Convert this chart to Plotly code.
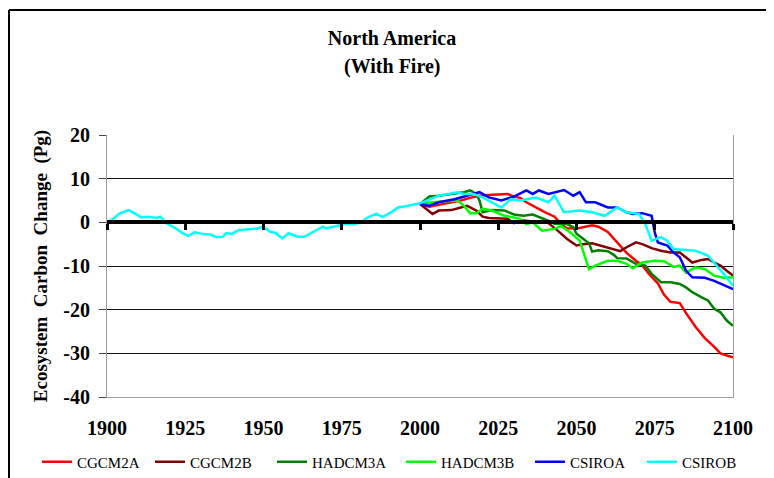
import plotly.graph_objects as go

# ---------------- data ----------------
tick_years = [1900, 1925, 1950, 1975, 2000, 2025, 2050, 2075, 2100]
y_ticks = [20, 10, 0, -10, -20, -30, -40]

cgcm2a_years = [2000, 2003, 2006, 2010, 2013, 2016, 2019, 2023, 2028, 2030, 2032, 2034, 2037, 2040, 2043, 2045,
                2047, 2051, 2055, 2057, 2060, 2063, 2066, 2069, 2071, 2073, 2074, 2076, 2078, 2080, 2083, 2085,
                2088, 2091, 2094, 2096, 2098, 2100]
cgcm2a_vals = [4.2, 3.6, 4.0, 4.5, 5.0, 5.6, 6.1, 6.3, 6.5, 5.9, 5.6, 4.6, 3.4, 2.3, 1.3, -0.4,
               -1.4, -1.3, -0.7, -1.0, -2.2, -4.6, -7.0, -8.8, -9.8, -11.7, -12.4, -14.0, -16.6, -18.2, -18.5, -20.8,
               -23.9, -26.5, -28.5, -30.0, -30.5, -30.9]

cgcm2b_years = [2000, 2002, 2004, 2006, 2010, 2013, 2015, 2018, 2020, 2022, 2028, 2030, 2033, 2037, 2040, 2044,
                2047, 2050, 2052, 2055, 2059, 2062, 2064, 2066, 2069, 2071, 2074, 2077, 2080, 2083, 2085, 2087,
                2090, 2092, 2094, 2096, 2098, 2100]
cgcm2b_vals = [4.2, 3.1, 1.9, 2.7, 2.8, 3.4, 3.8, 2.7, 1.3, 1.0, 0.8, -0.2, 0.4, 0.15, 0.4, -1.9,
               -3.8, -5.3, -5.0, -4.8, -5.6, -6.1, -6.6, -5.7, -4.6, -5.0, -5.9, -6.5, -6.9, -6.9, -8.0, -9.2,
               -8.6, -8.4, -9.2, -9.9, -11.1, -12.2]

hadcm3a_years = [2000, 2003, 2006, 2010, 2014, 2016, 2018, 2019, 2020, 2023, 2027, 2030, 2033, 2036, 2039, 2041,
                 2043, 2047, 2049, 2050, 2052, 2054, 2055, 2057, 2060, 2062, 2063, 2066, 2069, 2072, 2074, 2077,
                 2080, 2083, 2085, 2087, 2090, 2092, 2094, 2096, 2098, 2100]
hadcm3a_vals = [4.2, 5.9, 6.1, 6.5, 6.9, 7.3, 6.5, 5.0, 2.3, 2.8, 2.7, 1.8, 1.5, 1.8, 1.0, 0.4,
                -0.3, -0.4, -1.1, -2.6, -3.7, -4.8, -6.7, -6.4, -6.6, -7.5, -8.2, -8.3, -9.5, -9.9, -11.8, -13.7,
                -13.7, -14.1, -14.9, -16.0, -17.2, -17.9, -19.8, -20.6, -22.5, -23.7]

hadcm3b_years = [2000, 2004, 2008, 2012, 2014, 2016, 2018, 2020, 2023, 2027, 2030, 2032, 2034, 2036, 2039, 2043,
                 2045, 2048, 2051, 2054, 2056, 2060, 2063, 2066, 2068, 2071, 2075, 2078, 2081, 2083, 2085, 2088,
                 2091, 2094, 2097, 2100]
hadcm3b_vals = [4.2, 4.6, 4.8, 5.0, 3.8, 2.1, 2.1, 3.1, 2.7, 1.5, 1.1, 0.8, -0.4, 0.0, -1.9, -1.5,
                -0.8, -2.3, -4.2, -10.7, -9.9, -8.8, -8.8, -9.5, -10.5, -9.2, -8.8, -8.9, -10.2, -9.9, -11.5, -10.3,
                -10.7, -12.2, -12.7, -12.6]

csiroa_years = [2000, 2003, 2006, 2011, 2015, 2019, 2022, 2026, 2030, 2034, 2036, 2038, 2041, 2046, 2049, 2051,
                2053, 2056, 2060, 2063, 2066, 2068, 2071, 2074, 2075, 2076, 2079, 2081, 2083, 2085, 2087, 2091,
                2094, 2097, 2100]
csiroa_vals = [4.2, 3.8, 4.6, 5.3, 6.1, 6.9, 5.7, 5.0, 5.9, 7.3, 6.5, 7.3, 6.5, 7.4, 6.1, 6.9,
               4.6, 4.6, 3.4, 3.4, 2.3, 1.9, 2.1, 1.5, -2.3, -4.6, -5.3, -6.9, -8.0, -11.1, -12.6, -12.7,
               -13.4, -14.3, -15.3]

csirob_years = [1900, 1902, 1904, 1906, 1907, 1909, 1911, 1913, 1916, 1917, 1919, 1922, 1924, 1926, 1928, 1931,
                1933, 1935, 1937, 1938, 1940, 1942, 1946, 1948, 1950, 1952, 1954, 1956, 1958, 1961, 1963, 1966,
                1969, 1970, 1973, 1976, 1979, 1981, 1983, 1986, 1988, 1991, 1993, 1995, 1998, 2000, 2003, 2006,
                2009, 2012, 2014, 2017, 2020, 2023, 2026, 2029, 2032, 2037, 2041, 2043, 2046, 2051, 2055, 2059,
                2063, 2066, 2070, 2072, 2074, 2077, 2079, 2081, 2084, 2088, 2092, 2094, 2097, 2100]
csirob_vals = [0.0, 0.8, 2.0, 2.6, 2.8, 2.0, 1.1, 1.3, 1.0, 1.3, -0.2, -1.4, -2.4, -3.1, -2.3, -2.7,
               -2.8, -3.4, -3.3, -2.5, -2.6, -1.8, -1.6, -1.4, -1.0, -2.1, -2.5, -3.7, -2.5, -3.3, -3.3, -2.1,
               -1.0, -1.4, -0.9, -0.4, -0.4, -0.1, 1.0, 2.0, 1.2, 2.4, 3.4, 3.6, 4.1, 4.4, 5.2, 6.1,
               6.5, 6.9, 6.5, 6.5, 5.7, 4.6, 3.4, 5.3, 5.0, 5.7, 4.6, 6.1, 2.3, 2.7, 2.3, 1.5,
               3.4, 2.3, 1.9, -0.4, -4.2, -3.4, -4.2, -6.1, -6.3, -6.5, -7.6, -9.2, -11.8, -14.5]

series_names = ["CGCM2A", "CGCM2B", "HADCM3A", "HADCM3B", "CSIROA", "CSIROB"]
series_years = [cgcm2a_years, cgcm2b_years, hadcm3a_years, hadcm3b_years, csiroa_years, csirob_years]
series_vals = [cgcm2a_vals, cgcm2b_vals, hadcm3a_vals, hadcm3b_vals, csiroa_vals, csirob_vals]
series_colors = ["#FF0000", "#800000", "#008000", "#00FF00", "#0000FF", "#00FFFF"]

FONT = "Liberation Serif"
# the page adds an 8px body margin, so the figure is 8px smaller and all
# container positions are given relative to the figure's own corner
OFF = 8
W, H = 774 - OFF, 478 - OFF
PL, PT, PR, PB = 107 - OFF, 135 - OFF, 733 - OFF, 397 - OFF  # plot area in figure px
PW, PH = PR - PL, PB - PT
legend_left_page = [37, 150, 272, 401, 530, 642]  # left edge of each legend entry (page px)


def px_x(page_x):
    return (page_x - OFF - PL) / PW


def px_y(page_y):
    return (PB - (page_y - OFF)) / PH


fig = go.Figure()
legend_layout = {}
for i, (name, xs, ys, col) in enumerate(zip(series_names, series_years, series_vals, series_colors)):
    lname = "legend" if i == 0 else f"legend{i + 1}"
    fig.add_trace(go.Scatter(
        x=xs, y=ys, name=name, mode="lines",
        line=dict(color=col, width=2.5),
        xaxis="x2" if i == len(series_names) - 1 else "x",
        legend=lname,
    ))
    legend_layout[lname] = dict(
        orientation="h", xref="container", yref="container",
        x=(legend_left_page[i] - OFF) / W, xanchor="left",
        y=1 - (462 - OFF) / H, yanchor="middle",
        font=dict(size=15, family=FONT, color="black"),
        itemwidth=30, bgcolor="rgba(0,0,0,0)",
    )

fig.update_layout(
    width=W, height=H,
    margin=dict(l=PL, r=W - PR, t=PT, b=H - PB, autoexpand=False),
    paper_bgcolor="white", plot_bgcolor="white",
    font=dict(family=FONT, color="black"),
    title=dict(text="<b>North America</b>", x=(392 - OFF) / W, xref="container", xanchor="center",
               y=1 - (38 - OFF) / H, yref="container", yanchor="middle",
               font=dict(size=20, family=FONT, color="black")),
    showlegend=True,
    xaxis=dict(range=[1900, 2100], tickvals=tick_years,
               ticktext=[f"<b>{t}</b>" for t in tick_years],
               showgrid=False, zeroline=False, ticks="", automargin=False,
               showline=True, linecolor="#a0a0a0", linewidth=1,
               tickfont=dict(size=20, family=FONT, color="black"),
               ticklabelstandoff=13),
    xaxis2=dict(range=[1900, 2100], overlaying="x", anchor="free", position=2 / 3,
                side="bottom", tickvals=tick_years, showticklabels=False, automargin=False,
                ticks="outside", ticklen=6, tickwidth=3, tickcolor="black",
                showline=True, linecolor="black", linewidth=4,
                showgrid=False, zeroline=False),
    yaxis=dict(range=[-40, 20], tickvals=y_ticks,
               ticktext=[f"<b>{t}</b>" for t in y_ticks],
               showgrid=True, gridcolor="#111111", gridwidth=1,
               zeroline=False, automargin=False,
               showline=True, linecolor="#a0a0a0", linewidth=1, mirror=True,
               ticks="outside", ticklen=7, tickcolor="#444444",
               tickfont=dict(size=20, family=FONT, color="black"),
               ticklabelstandoff=5,
               title=dict(text="<b>Ecosystem  Carbon  Change  (Pg)</b>",
                          font=dict(size=19, family=FONT, color="black"), standoff=10)),
    **legend_layout,
)

fig.add_annotation(text="<b>(With Fire)</b>", xref="paper", yref="paper",
                   x=px_x(392), y=px_y(66), showarrow=False,
                   xanchor="center", yanchor="middle",
                   font=dict(size=20, family=FONT, color="black"))

# outer chart frame (left and top edges)
fig.add_shape(type="line", xref="paper", yref="paper",
              x0=px_x(9), x1=px_x(790), y0=px_y(10), y1=px_y(10),
              line=dict(color="black", width=2))
fig.add_shape(type="line", xref="paper", yref="paper",
              x0=px_x(9), x1=px_x(9), y0=px_y(10), y1=px_y(500),
              line=dict(color="black", width=2))

fig.write_html("out.html")
